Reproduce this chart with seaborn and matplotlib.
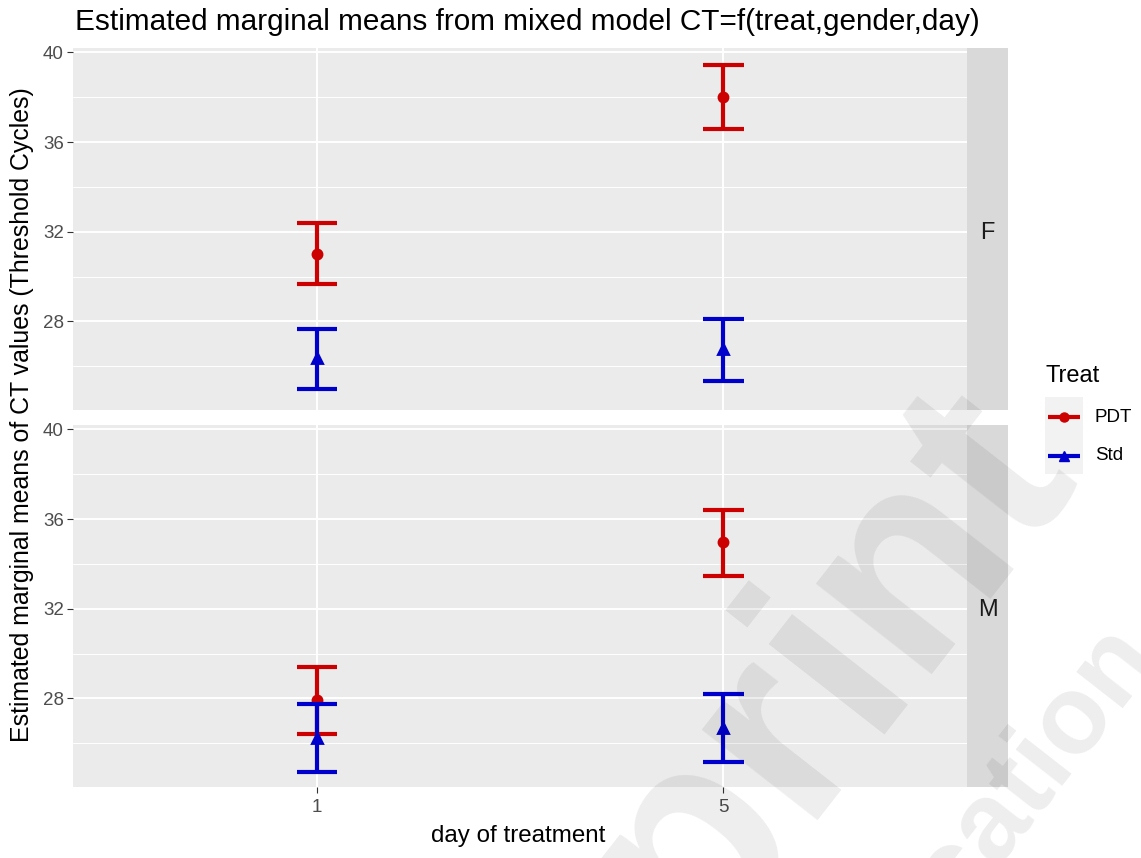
import numpy as np
import pandas as pd
import matplotlib
matplotlib.use("Agg")
import matplotlib.pyplot as plt
import seaborn as sns
from matplotlib.lines import Line2D
from matplotlib.patches import Rectangle
from matplotlib.ticker import FixedLocator

# ---------------- data ----------------
days = ["1", "5"]
treats = ["PDT", "Std"]
genders = ["F", "M"]

f_pdt_mean = [31.03, 38.02]
f_pdt_low = [29.66, 36.59]
f_pdt_high = [32.40, 39.44]
f_std_mean = [26.35, 26.75]
f_std_low = [25.00, 25.35]
f_std_high = [27.66, 28.10]

m_pdt_mean = [27.95, 34.99]
m_pdt_low = [26.42, 33.46]
m_pdt_high = [29.40, 36.43]
m_std_mean = [26.25, 26.67]
m_std_low = [24.73, 25.16]
m_std_high = [27.76, 28.18]

y_ticks = [28, 32, 36, 40]
y_minor = [26, 30, 34, 38]

title = "Estimated marginal means from mixed model CT=f(treat,gender,day)"
x_label = "day of treatment"
y_label = "Estimated marginal means of CT values (Threshold Cycles)"
legend_title = "Treat"

colors = {"PDT": "#CC0000", "Std": "#0000CC"}

series = {
    ("F", "PDT"): (f_pdt_low, f_pdt_mean, f_pdt_high),
    ("F", "Std"): (f_std_low, f_std_mean, f_std_high),
    ("M", "PDT"): (m_pdt_low, m_pdt_mean, m_pdt_high),
    ("M", "Std"): (m_std_low, m_std_mean, m_std_high),
}
rows = []
for (g, t), (lo, mu, hi) in series.items():
    for i, d in enumerate(days):
        for v in (lo[i], mu[i], hi[i]):
            rows.append({"gender": g, "treat": t, "day": d, "ct": v})
df = pd.DataFrame(rows)

# ---------------- style ----------------
sns.set_theme(style="darkgrid")
plt.rcParams["font.family"] = ["Liberation Sans", "DejaVu Sans"]

W, H = 1141, 858
fig = plt.figure(figsize=(W / 100, H / 100), dpi=100)
fig.patch.set_facecolor("white")


def fax(l, t, r, b):
    return fig.add_axes([l / W, 1 - b / H, (r - l) / W, (b - t) / H])


def px(x, y):
    return x / W, 1 - y / H


panels = [(48, 410), (425, 787)]
for k, (g, (t, b)) in enumerate(zip(genders, panels)):
    ax = fax(73, t, 967, b)
    ax.set_facecolor("#EBEBEB")
    sub = df[df["gender"] == g]
    sns.pointplot(
        data=sub, x="day", y="ct", hue="treat", order=days, hue_order=treats,
        estimator="median", errorbar=lambda v: (v.min(), v.max()),
        palette=colors, markers=["o", "^"], linestyles="none", dodge=False,
        capsize=0.1, err_kws={"linewidth": 3.0, "solid_capstyle": "butt"},
        markersize=6.5, ax=ax, legend=False,
    )
    ax.set_xlim(-0.6, 1.6)
    ax.set_ylim(24.05, 40.2)
    ax.set_yticks(y_ticks)
    ax.yaxis.set_minor_locator(FixedLocator(y_minor))
    ax.set_xlabel("")
    ax.set_ylabel("")
    ax.set_axisbelow(True)
    ax.grid(False)
    ax.yaxis.grid(True, which="major", color="white", linewidth=1.4)
    ax.yaxis.grid(True, which="minor", color="white", linewidth=0.7)
    ax.xaxis.grid(True, which="major", color="white", linewidth=1.4)
    for s in ax.spines.values():
        s.set_visible(False)
    ax.tick_params(axis="y", which="major", length=4.5, width=0.8, color="#333333",
                   labelsize=13.5, labelcolor="#4D4D4D", pad=2, left=True)
    ax.tick_params(axis="y", which="minor", length=0)
    if k == 0:
        ax.tick_params(axis="x", length=0, labelbottom=False)
    else:
        ax.tick_params(axis="x", length=4.5, width=0.8, color="#333333",
                       labelsize=13.5, labelcolor="#4D4D4D", pad=4, bottom=True)

    sax = fax(967, t, 1008, b)
    sax.set_facecolor("#D9D9D9")
    sax.set_xticks([])
    sax.set_yticks([])
    for s in sax.spines.values():
        s.set_visible(False)
    sax.text(0.5, 0.49, g, transform=sax.transAxes, ha="center", va="center",
             fontsize=17, color="#1A1A1A")

# titles
fig.text(*px(75, 22), title, ha="left", va="center", fontsize=21.4, color="black")
fig.text(*px(518, 836), x_label, ha="center", va="center", fontsize=17.4, color="black")
fig.text(*px(22, 415), y_label, ha="center", va="center", rotation=90,
         fontsize=17.9, color="black")

# legend
fig.text(*px(1045, 376), legend_title, ha="left", va="center", fontsize=17, color="black")
fig.patches.append(Rectangle(px(1045, 474), 38 / W, 77 / H, transform=fig.transFigure,
                             facecolor="#F2F2F2", edgecolor="none", zorder=1))
for t, yy, mk in zip(treats, [417, 456], ["o", "^"]):
    x0, y0 = px(1048, yy)
    x1, _ = px(1080, yy)
    fig.add_artist(Line2D([x0, x1], [y0, y0], transform=fig.transFigure,
                          color=colors[t], linewidth=3, solid_capstyle="butt", zorder=2))
    fig.add_artist(Line2D([(x0 + x1) / 2], [y0], transform=fig.transFigure,
                          color=colors[t], marker=mk, markersize=6.5, linestyle="none", zorder=3))
    fig.text(*px(1095, yy), t, ha="left", va="center", fontsize=13.5, color="black")

# watermark
fig.text(*px(1075, 467), "Preprint", rotation=52, rotation_mode="anchor",
         ha="right", va="baseline", fontsize=200, fontweight="bold",
         color="black", alpha=0.07, zorder=10)
fig.text(*px(1158, 654), "publication", rotation=52, rotation_mode="anchor",
         ha="right", va="baseline", fontsize=80, fontweight="bold",
         color="black", alpha=0.07, zorder=10)

fig.savefig("out.png", dpi=100, facecolor="white")
